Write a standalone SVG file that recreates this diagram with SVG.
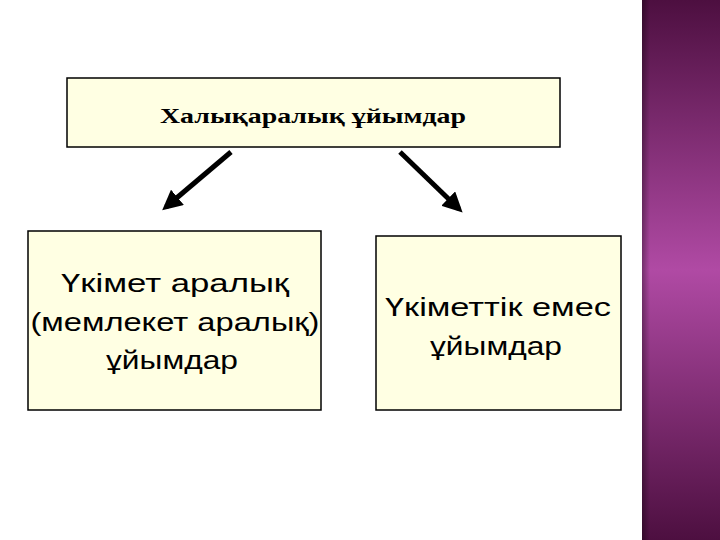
<svg xmlns="http://www.w3.org/2000/svg" width="720" height="540" viewBox="0 0 720 540">
<defs>
<linearGradient id="strip" x1="0" y1="0" x2="0" y2="1">
<stop offset="0" stop-color="#4d0f40"/>
<stop offset="0.5" stop-color="#b04aa4"/>
<stop offset="1" stop-color="#4d0f40"/>
</linearGradient>
<linearGradient id="edge" x1="0" y1="0" x2="1" y2="0">
<stop offset="0" stop-color="#000" stop-opacity="0.35"/>
<stop offset="1" stop-color="#000" stop-opacity="0"/>
</linearGradient>
<marker id="ah" markerWidth="4" markerHeight="4" refX="3" refY="2" orient="auto" markerUnits="strokeWidth">
<path d="M0,0 L4,2 L0,4 Z" fill="#000"/>
</marker>
<style>
.box{fill:#ffffe3;stroke:#000;stroke-width:1.5}
.big{font-family:"Liberation Sans",Arial,sans-serif;font-size:26px;text-anchor:middle;fill:#000}
.conn{stroke:#000;stroke-width:5;fill:none;marker-end:url(#ah)}
</style>
</defs>
<rect width="720" height="540" fill="#fff"/>
<rect x="642" y="0" width="78" height="540" fill="url(#strip)"/>
<rect x="642" y="0" width="8" height="540" fill="url(#edge)"/>
<g id="top">
<rect class="box" x="67" y="78" width="493" height="69"/>
<text x="313" y="123" font-family="'Liberation Serif','Times New Roman',serif" font-size="22" font-weight="bold" text-anchor="middle" textLength="306" lengthAdjust="spacingAndGlyphs">Халықаралық ұйымдар</text>
</g>
<g id="left">
<rect class="box" x="28" y="231" width="293" height="179"/>
<text class="big" x="175" y="292" textLength="228" lengthAdjust="spacingAndGlyphs">Үкімет аралық</text>
<text class="big" x="175" y="331" textLength="289" lengthAdjust="spacingAndGlyphs">(мемлекет аралық)</text>
<text class="big" x="172" y="369" textLength="132" lengthAdjust="spacingAndGlyphs">ұйымдар</text>
</g>
<g id="right">
<rect class="box" x="376" y="236" width="245" height="174"/>
<text class="big" x="498" y="316" textLength="226" lengthAdjust="spacingAndGlyphs">Үкіметтік емес</text>
<text class="big" x="496" y="355" textLength="132" lengthAdjust="spacingAndGlyphs">ұйымдар</text>
</g>
<g id="connectors">
<line class="conn" x1="231" y1="152" x2="166" y2="207"/>
<line class="conn" x1="400" y1="152" x2="459" y2="209"/>
</g>
</svg>
